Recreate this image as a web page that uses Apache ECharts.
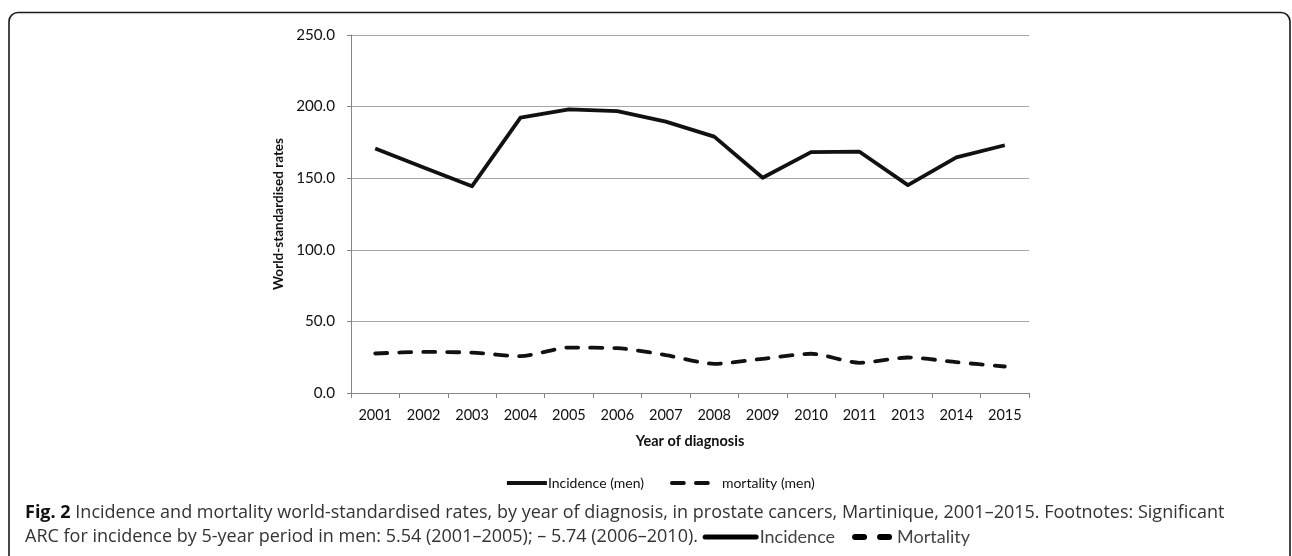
<!DOCTYPE html>
<html>
<head>
<meta charset="utf-8">
<script src="https://cdn.jsdelivr.net/npm/echarts@6/dist/echarts.min.js"></script>
<style>
html,body{margin:0;padding:0;background:#fff;}
#c{width:1292px;height:556px;}
</style>
</head>
<body>
<div id="c"></div>
<script>
const years = ['2001','2002','2003','2004','2005','2006','2007','2008','2009','2010','2011','2013','2014','2015'];
const incidence = [170.8,157.5,144.4,192.3,198.0,196.8,189.5,179.0,150.3,168.2,168.5,145.2,164.5,173.0];
const mortality = [27.6,28.7,28.2,25.7,31.7,31.3,26.5,20.4,23.9,27.4,21.1,24.8,21.5,18.5];
const yTicks = [0,50,100,150,200,250];

const chartFont = 'Lato';
const capFont = '"Open Sans"';

const chart = echarts.init(document.getElementById('c'), null, {renderer:'canvas'});
chart.setOption({
  animation:false,
  backgroundColor:'#fff',
  grid:{left:351, right:263, top:35, bottom:163, containLabel:false},
  xAxis:{
    type:'category', data:years, boundaryGap:true,
    name:'Year of diagnosis', nameLocation:'middle', nameGap:41,
    nameTextStyle:{fontFamily:chartFont, fontWeight:'bold', fontSize:14.5, color:'#111'},
    axisLine:{lineStyle:{color:'#868686', width:1}},
    axisTick:{show:true, length:5, lineStyle:{color:'#868686'}},
    axisLabel:{fontFamily:chartFont, fontSize:14.5, color:'#111', margin:15}
  },
  yAxis:{
    type:'value', min:yTicks[0], max:yTicks[yTicks.length-1], interval:50,
    name:'World-standardised rates', nameLocation:'middle', nameGap:62,
    nameTextStyle:{fontFamily:chartFont, fontWeight:'bold', fontSize:13.5, color:'#111'},
    axisLine:{show:true, lineStyle:{color:'#868686', width:1}},
    axisTick:{show:true, length:4, lineStyle:{color:'#868686'}},
    axisLabel:{fontFamily:chartFont, fontSize:15.2, color:'#111', margin:16, formatter:v=>v.toFixed(1)},
    splitLine:{lineStyle:{color:'#a6a6a6', width:1}}
  },
  legend:{
    left:500, top:471, itemWidth:40, itemHeight:14, itemGap:26,
    itemStyle:{color:'rgba(0,0,0,0)', borderColor:'rgba(0,0,0,0)', borderWidth:0},
    lineStyle:{width:3.8, color:'#111'},
    textStyle:{fontFamily:chartFont, fontSize:14, color:'#111', padding:[0,0,0,-4]},
    data:[
      {name:'Incidence (men)'},
      {name:'mortality (men)', textStyle:{padding:[0,0,0,5]}}
    ]
  },
  series:[
    {name:'Incidence (men)', type:'line', data:incidence, symbol:'none',
     lineStyle:{color:'#111', width:3.8, join:'round'}, itemStyle:{color:'#111'}},
    {name:'mortality (men)', type:'line', data:mortality, symbol:'none', smooth:0.25,
     lineStyle:{color:'#111', width:3.8, type:[12,12], cap:'round'}, itemStyle:{color:'#111'}}
  ],
  graphic:[
    {type:'rect', shape:{x:9, y:12.5, width:1281, height:620, r:9}, style:{fill:'none', stroke:'#1a1a1a', lineWidth:1.6}, silent:true},
    {type:'text', left:25, top:504, style:{
      text:'{b|Fig. 2} Incidence and mortality world-standardised rates, by year of diagnosis, in prostate cancers, Martinique, 2001–2015. Footnotes: Significant',
      fontFamily:capFont, fontSize:18, fill:'#333',
      rich:{b:{fontFamily:capFont, fontSize:18, fontWeight:'bold', fill:'#111'}}
    }},
    {type:'text', left:25, top:528, style:{
      text:'ARC for incidence by 5-year period in men: 5.54 (2001–2005); – 5.74 (2006–2010). {ln| }{t|Incidence}{sp| }{d| }{g| }{d| }{t2|Mortality}',
      fontFamily:capFont, fontSize:18, fill:'#333',
      rich:{
        ln:{width:56, height:5, backgroundColor:'#000', fontSize:4, borderRadius:2.5, verticalAlign:'middle'},
        t:{fontFamily:chartFont, fontSize:18, fill:'#444', padding:[0,0,0,1]},
        sp:{width:17, fontSize:4},
        d:{width:15, height:6, backgroundColor:'#000', fontSize:4, borderRadius:3, verticalAlign:'middle'},
        g:{width:10, fontSize:4},
        t2:{fontFamily:chartFont, fontSize:18, fill:'#444', padding:[0,0,0,5]}
      }
    }}
  ]
});
</script>
</body>
</html>
